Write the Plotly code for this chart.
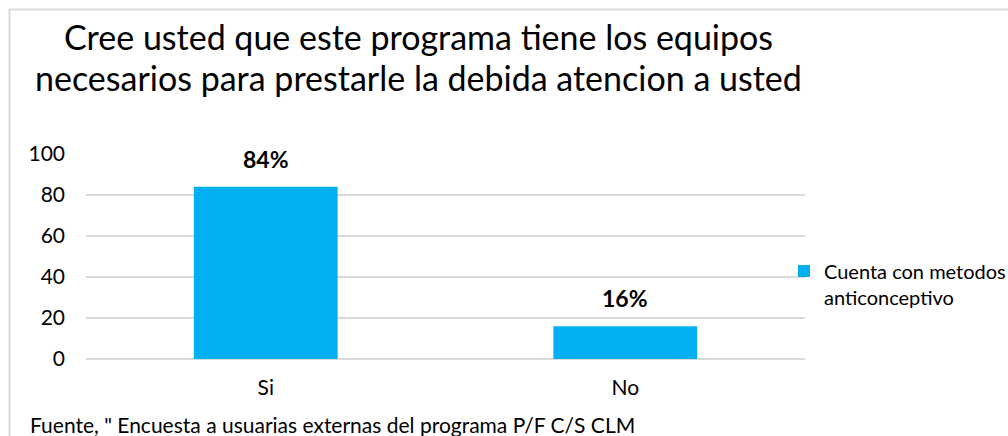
import plotly.graph_objects as go

categories = ["Si", "No"]
values = [84, 16]
labels = ["84%", "16%"]
series_name = "Cuenta con metodos<br>anticonceptivo"
title_lines = ["Cree usted que este programa tiene los equipos",
               "necesarios para prestarle la debida atencion a usted"]
footer_text = 'Fuente, " Encuesta a usuarias externas del programa P/F C/S CLM'
y_ticks = [0, 20, 40, 60, 80, 100]

FONT = "Lato, 'Noto Sans', sans-serif"
W, H = 1008, 436
L, R, T, B = 86, 203, 154, 77
PW, PH = W - L - R, H - T - B

fig = go.Figure()
fig.add_trace(go.Bar(
    x=categories, y=values, name=series_name,
    marker=dict(color="#00B0F0", line=dict(width=0)),
    width=0.4, showlegend=True,
))

for c, v, t in zip(categories, values, labels):
    fig.add_annotation(x=c, y=v, text=t, showarrow=False, yanchor="bottom", yshift=12,
                       font=dict(family=FONT, size=23, color="#000000", weight="bold"))

fig.update_layout(
    width=W, height=H,
    margin=dict(l=L, r=R, t=T, b=B, autoexpand=False),
    paper_bgcolor="white", plot_bgcolor="white",
    font=dict(family=FONT, color="#000000"),
    xaxis=dict(showgrid=False, showline=False, ticks="", tickfont=dict(size=21, family=FONT),
               ticklabelstandoff=14),
    yaxis=dict(range=[0, 100], tickvals=y_ticks, showgrid=True, gridcolor="#D9D9D9", gridwidth=2,
               zeroline=True, zerolinecolor="#D9D9D9", zerolinewidth=2, showline=False,
               tickfont=dict(size=21, family=FONT), ticklabelstandoff=20),
    legend=dict(x=(784 - L) / PW, xanchor="left", y=(H - B - 284) / PH, yanchor="middle",
                font=dict(size=20, family=FONT), bgcolor="rgba(0,0,0,0)",
                itemwidth=30, tracegroupgap=0, valign="top"),
    showlegend=True,
)

title_y = [37, 77]
for line, yy in zip(title_lines, title_y):
    fig.add_annotation(text=line, xref="paper", yref="paper", x=(418 - L) / PW,
                       y=(H - B - yy) / PH, xanchor="center", yanchor="middle", showarrow=False,
                       font=dict(size=34, family=FONT, color="#000000"))

fig.add_annotation(text=footer_text, xref="paper", yref="paper", x=(28 - L) / PW,
                   y=(H - B - 424) / PH, xanchor="left", yanchor="middle", showarrow=False,
                   font=dict(size=21, family=FONT, color="#000000"))

fig.add_shape(type="rect", xref="paper", yref="paper",
              x0=(9.5 - L) / PW, y0=(H - B - 460) / PH, x1=(1030 - L) / PW, y1=(H - B - 9.5) / PH,
              line=dict(color="#D9D9D9", width=2), fillcolor="rgba(0,0,0,0)", layer="below")

fig.write_html("out.html", config={"displayModeBar": False},
               post_script="document.body.style.margin='0';document.body.style.overflow='hidden';")
